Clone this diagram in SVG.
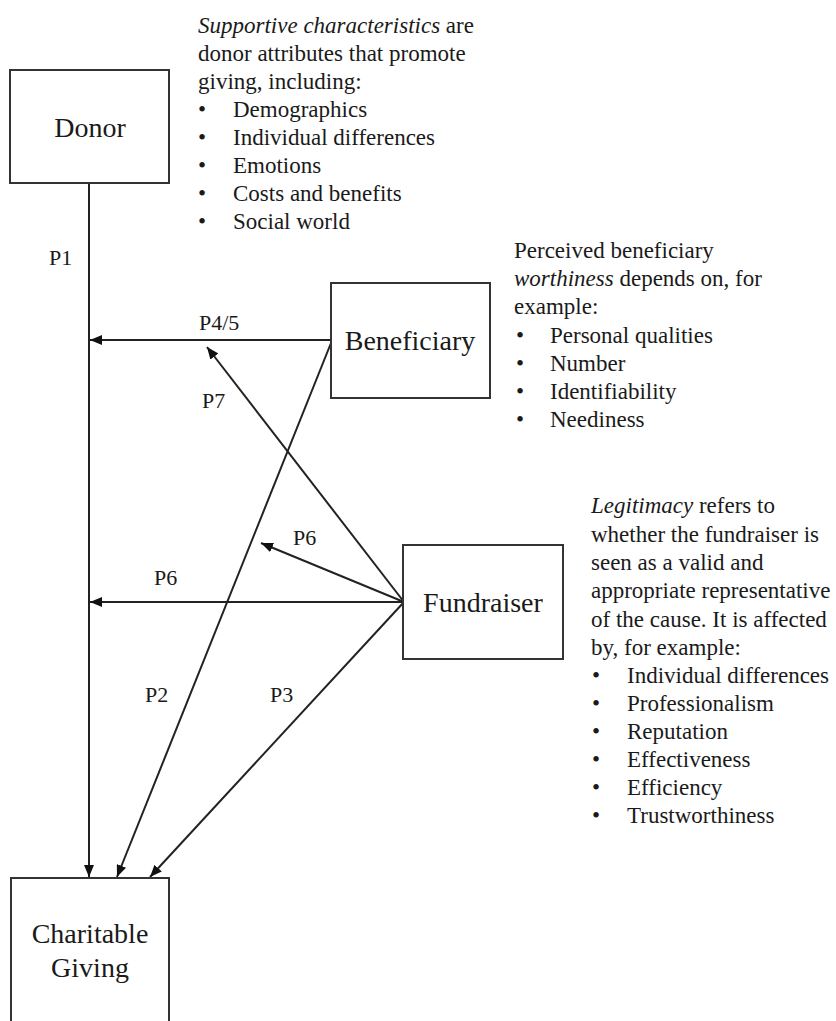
<svg xmlns="http://www.w3.org/2000/svg" width="836" height="1021" viewBox="0 0 836 1021">
<style>
text{font-family:"Liberation Serif","Times New Roman",serif;fill:#1a1a1a}
.box{fill:#fff;stroke:#333;stroke-width:2}
.lbl{font-size:28px;text-anchor:middle}
.p{font-size:22px}
.t{font-size:23px}
.c{fill:none;stroke:#222;stroke-width:2}
</style>
<defs>
<marker id="ah" viewBox="0 0 12 10" refX="12" refY="5" markerWidth="12" markerHeight="10" markerUnits="userSpaceOnUse" orient="auto">
<path d="M0,0 L12,5 L0,10 z" fill="#111"/>
</marker>
</defs>
<rect width="836" height="1021" fill="#fff"/>
<g id="connectors">
<line class="c" x1="89" y1="183" x2="89" y2="877" marker-end="url(#ah)"/>
<line class="c" x1="331" y1="340" x2="90" y2="340" marker-end="url(#ah)"/>
<line class="c" x1="331" y1="343" x2="117" y2="877" marker-end="url(#ah)"/>
<line class="c" x1="404" y1="602" x2="207" y2="347" marker-end="url(#ah)"/>
<line class="c" x1="404" y1="602" x2="261" y2="543" marker-end="url(#ah)"/>
<line class="c" x1="404" y1="602" x2="90" y2="602" marker-end="url(#ah)"/>
<line class="c" x1="404" y1="602" x2="150" y2="877" marker-end="url(#ah)"/>
<text class="p" x="49" y="265">P1</text>
<text class="p" x="199" y="330">P4/5</text>
<text class="p" x="202" y="408">P7</text>
<text class="p" x="293" y="545">P6</text>
<text class="p" x="154" y="585">P6</text>
<text class="p" x="145" y="702">P2</text>
<text class="p" x="270" y="702">P3</text>
</g>
<g id="donor">
<rect class="box" x="10" y="70" width="159" height="113"/>
<text class="lbl" x="90" y="137">Donor</text>
</g>
<g id="beneficiary">
<rect class="box" x="331" y="283" width="159" height="115"/>
<text class="lbl" x="410" y="350">Beneficiary</text>
</g>
<g id="fundraiser">
<rect class="box" x="403" y="545" width="160" height="114"/>
<text class="lbl" x="483" y="612">Fundraiser</text>
</g>
<g id="charitable-giving">
<rect class="box" x="11" y="878" width="158" height="160"/>
<text class="lbl" x="90" y="943">Charitable</text>
<text class="lbl" x="90" y="977">Giving</text>
</g>
<g id="donor-note" class="t">
<text x="198" y="33"><tspan font-style="italic">Supportive characteristics</tspan> are</text>
<text x="198" y="61">donor attributes that promote</text>
<text x="198" y="89">giving, including:</text>
<text x="198" y="117">•</text><text x="233" y="117">Demographics</text>
<text x="198" y="145">•</text><text x="233" y="145">Individual differences</text>
<text x="198" y="173">•</text><text x="233" y="173">Emotions</text>
<text x="198" y="201">•</text><text x="233" y="201">Costs and benefits</text>
<text x="198" y="229">•</text><text x="233" y="229">Social world</text>
</g>
<g id="beneficiary-note" class="t">
<text x="514" y="258">Perceived beneficiary</text>
<text x="514" y="286"><tspan font-style="italic">worthiness</tspan> depends on, for</text>
<text x="514" y="314">example:</text>
<text x="516" y="343">•</text><text x="550" y="343">Personal qualities</text>
<text x="516" y="371">•</text><text x="550" y="371">Number</text>
<text x="516" y="399">•</text><text x="550" y="399">Identifiability</text>
<text x="516" y="427">•</text><text x="550" y="427">Neediness</text>
</g>
<g id="fundraiser-note" class="t">
<text x="591" y="513"><tspan font-style="italic">Legitimacy</tspan> refers to</text>
<text x="591" y="542">whether the fundraiser is</text>
<text x="591" y="570">seen as a valid and</text>
<text x="591" y="598">appropriate representative</text>
<text x="591" y="627">of the cause. It is affected</text>
<text x="591" y="655">by, for example:</text>
<text x="592" y="683">•</text><text x="627" y="683">Individual differences</text>
<text x="592" y="711">•</text><text x="627" y="711">Professionalism</text>
<text x="592" y="739">•</text><text x="627" y="739">Reputation</text>
<text x="592" y="767">•</text><text x="627" y="767">Effectiveness</text>
<text x="592" y="795">•</text><text x="627" y="795">Efficiency</text>
<text x="592" y="823">•</text><text x="627" y="823">Trustworthiness</text>
</g>
</svg>
